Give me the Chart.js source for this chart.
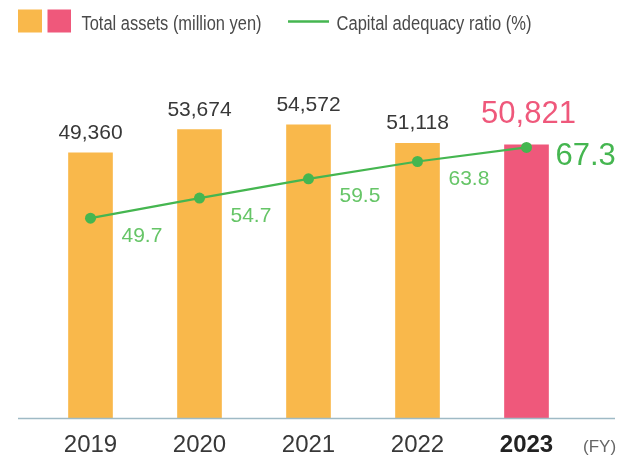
<!DOCTYPE html>
<html>
<head>
<meta charset="utf-8">
<script src="https://cdn.jsdelivr.net/npm/chart.js@4.4.1/dist/chart.umd.min.js"></script>
<style>
  html, body { margin: 0; padding: 0; background: #fff; }
  #wrap { width: 621px; height: 462px; position: relative; }
</style>
</head>
<body>
<div id="wrap"><canvas id="myChart" width="621" height="462"></canvas></div>
<script>
// data
const years = ["2019", "2020", "2021", "2022", "2023"];
const totalAssets = [49360, 53674, 54572, 51118, 50821];   // million yen
const capitalRatio = [49.7, 54.7, 59.5, 63.8, 67.3];       // %

const ORANGE = "#f9b84b";
const PINK = "#ef587b";
const GREEN = "#45b650";
const GREEN_LIGHT = "#66c567";
const FONT = "'Liberation Sans', Arial, sans-serif";

// legend, value labels, baseline and (FY) drawn on top of the chart
const extras = {
    id: "extras",
    afterDraw(chart) {
        const ctx = chart.ctx;
        ctx.save();

        // legend
        ctx.fillStyle = ORANGE;
        ctx.fillRect(18, 9.5, 24, 23);
        ctx.fillStyle = PINK;
        ctx.fillRect(47.5, 9.5, 23.5, 23);
        ctx.strokeStyle = GREEN;
        ctx.lineWidth = 2.5;
        ctx.beginPath();
        ctx.moveTo(288, 21.5);
        ctx.lineTo(329, 21.5);
        ctx.stroke();
        ctx.font = "20px " + FONT;
        ctx.fillStyle = "#4a4a4a";
        ctx.textBaseline = "alphabetic";
        ctx.textAlign = "left";
        const narrow = function(text, x, y, w) {
            const m = ctx.measureText(text).width;
            ctx.save();
            ctx.translate(x, y);
            ctx.scale(w / m, 1);
            ctx.fillText(text, 0, 0);
            ctx.restore();
        };
        narrow("Total assets (million yen)", 81.5, 30, 180);
        narrow("Capital adequacy ratio (%)", 336.5, 30, 195);

        // baseline
        const yb = chart.chartArea.bottom;
        ctx.strokeStyle = "#9fbac5";
        ctx.lineWidth = 1.6;
        ctx.beginPath();
        ctx.moveTo(18, yb + 0.5);
        ctx.lineTo(615, yb + 0.5);
        ctx.stroke();

        // (FY)
        ctx.font = "17px " + FONT;
        ctx.fillStyle = "#666";
        ctx.fillText("(FY)", 583, 452);

        // bar values
        const bars = chart.getDatasetMeta(1).data;
        ctx.textAlign = "center";
        bars.forEach(function(b, i) {
            const txt = totalAssets[i].toLocaleString("en-US");
            if (i === bars.length - 1) {
                ctx.font = "31px " + FONT;
                ctx.fillStyle = PINK;
                ctx.fillText(txt, b.x + 2, b.y - 21.5);
            } else {
                ctx.font = "21px " + FONT;
                ctx.fillStyle = "#383838";
                ctx.fillText(txt, b.x, b.y - 14);
            }
        });

        // ratio values
        const pts = chart.getDatasetMeta(0).data;
        ctx.textAlign = "left";
        pts.forEach(function(p, i) {
            const txt = capitalRatio[i].toFixed(1);
            if (i === pts.length - 1) {
                ctx.font = "31px " + FONT;
                ctx.fillStyle = GREEN;
                ctx.fillText(txt, p.x + 29, p.y + 17.5);
            } else {
                ctx.font = "21px " + FONT;
                ctx.fillStyle = GREEN_LIGHT;
                ctx.fillText(txt, p.x + 31, p.y + 23.5);
            }
        });
        ctx.restore();
    }
};

const config = {
    type: "bar",
    data: {
        labels: years,
        datasets: [
            {
                type: "line",
                label: "Capital adequacy ratio (%)",
                data: capitalRatio,
                yAxisID: "y2",
                borderColor: GREEN,
                borderWidth: 2.2,
                pointRadius: 5.5,
                pointBackgroundColor: GREEN,
                pointBorderWidth: 0,
                tension: 0,
                order: 0,
            },
            {
                label: "Total assets (million yen)",
                data: totalAssets,
                yAxisID: "y",
                backgroundColor: [ORANGE, ORANGE, ORANGE, ORANGE, PINK],
                barThickness: 44,
                order: 1,
            },
        ],
    },
    options: {
        responsive: false,
        animation: false,
        layout: {
            padding: { left: 36, right: 40, top: 60, bottom: -10.8 },
        },
        plugins: {
            legend: { display: false },
            tooltip: { enabled: false },
        },
        scales: {
            x: {
                grid: { display: false, drawTicks: false },
                border: { display: false },
                ticks: {
                    padding: 13,
                    color: function(c) { return c.index === 4 ? "#222" : "#383838"; },
                    font: function(c) {
                        return { family: FONT, size: 24, weight: c.index === 4 ? "bold" : "normal" };
                    },
                },
            },
            y: { display: false, min: 0, max: 66620 },
            y2: { display: false, min: 0, max: 89.05 },
        },
    },
    plugins: [extras],
};

const myChart = new Chart(document.getElementById("myChart"), config);
</script>
</body>
</html>
